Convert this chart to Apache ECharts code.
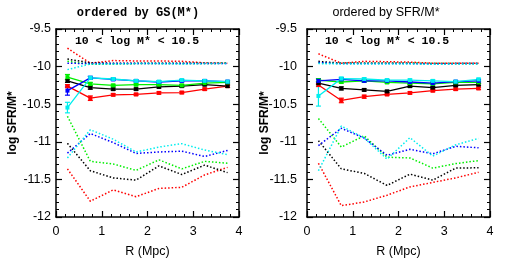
<!DOCTYPE html>
<html>
<head>
<meta charset="utf-8">
<script src="https://cdn.jsdelivr.net/npm/echarts@6/dist/echarts.min.js"></script>
<style>html,body{margin:0;padding:0;background:#fff}#c{width:518px;height:268px}</style>
</head>
<body>
<div id="c"></div>
<script>
// ---- data ----
const R = [0.25, 0.75, 1.25, 1.75, 2.25, 2.75, 3.25, 3.75];
const xTicks = [0, 1, 2, 3, 4];
const yTicks = [-12, -11.5, -11, -10.5, -10, -9.5];

// left panel: ordered by GS(M*) - solid (with error bars)
const L_red   = [-10.26, -10.42, -10.375, -10.37, -10.35, -10.345, -10.30, -10.26];
const L_black = [-10.19, -10.28, -10.30, -10.30, -10.27, -10.26, -10.24, -10.26];
const L_green = [-10.14, -10.23, -10.25, -10.24, -10.24, -10.25, -10.22, -10.21];
const L_blue  = [-10.32, -10.15, -10.17, -10.19, -10.205, -10.19, -10.19, -10.20];
const L_cyan  = [-10.545, -10.15, -10.165, -10.19, -10.20, -10.18, -10.19, -10.20];
const L_red_e   = [0.02, 0.03, 0.015, 0.015, 0.015, 0.015, 0.015, 0.015];
const L_black_e = [0.02, 0.02, 0.015, 0.015, 0.015, 0.015, 0.015, 0.015];
const L_green_e = [0.035, 0.02, 0.015, 0.015, 0.015, 0.015, 0.015, 0.015];
const L_blue_e  = [0.06, 0.02, 0.015, 0.015, 0.015, 0.015, 0.015, 0.015];
const L_cyan_e  = [0.07, 0.02, 0.015, 0.015, 0.015, 0.015, 0.015, 0.015];
// left panel dotted (upper)
const LH_red   = [-9.755, -9.955, -9.92, -9.925, -9.925, -9.93, -9.95, -9.955];
const LH_black = [-9.90, -9.95, -9.955, -9.955, -9.955, -9.955, -9.955, -9.955];
const LH_green = [-9.93, -9.97, -9.965, -9.96, -9.96, -9.96, -9.96, -9.955];
const LH_blue  = [-9.955, -9.96, -9.96, -9.96, -9.96, -9.96, -9.96, -9.96];
const LH_cyan  = [-10.04, -9.965, -9.965, -9.96, -9.96, -9.965, -9.96, -9.96];
// left panel dotted (lower)
const LL_red   = [-11.36, -11.79, -11.64, -11.73, -11.62, -11.605, -11.44, -11.34];
const LL_black = [-11.02, -11.385, -11.48, -11.51, -11.32, -11.435, -11.31, -11.41];
const LL_green = [-10.66, -11.26, -11.295, -11.38, -11.24, -11.36, -11.26, -11.285];
const LL_blue  = [-11.15, -10.89, -11.01, -11.155, -11.135, -11.125, -11.195, -11.115];
const LL_cyan  = [-11.215, -10.84, -10.965, -11.135, -11.07, -11.025, -11.11, -11.17];

// right panel: ordered by SFR/M* - solid
const Rr_red   = [-10.245, -10.45, -10.40, -10.37, -10.35, -10.32, -10.30, -10.29];
const Rr_black = [-10.22, -10.29, -10.31, -10.33, -10.26, -10.28, -10.25, -10.24];
const Rr_green = [-10.18, -10.205, -10.19, -10.21, -10.22, -10.23, -10.21, -10.21];
const Rr_blue  = [-10.19, -10.17, -10.19, -10.19, -10.205, -10.22, -10.20, -10.19];
const Rr_cyan  = [-10.39, -10.16, -10.165, -10.18, -10.18, -10.19, -10.20, -10.17];
const Rr_red_e   = [0.02, 0.03, 0.02, 0.015, 0.015, 0.015, 0.015, 0.015];
const Rr_black_e = [0.02, 0.02, 0.015, 0.015, 0.015, 0.015, 0.015, 0.015];
const Rr_green_e = [0.02, 0.015, 0.015, 0.015, 0.015, 0.015, 0.015, 0.015];
const Rr_blue_e  = [0.025, 0.02, 0.015, 0.015, 0.015, 0.015, 0.015, 0.015];
const Rr_cyan_e  = [0.135, 0.02, 0.015, 0.015, 0.015, 0.015, 0.015, 0.015];
// right panel dotted (upper)
const RH_red   = [-9.83, -9.955, -9.93, -9.935, -9.94, -9.955, -9.955, -9.955];
const RH_black = [-9.93, -9.955, -9.955, -9.955, -9.955, -9.96, -9.96, -9.96];
const RH_green = [-9.95, -9.955, -9.955, -9.955, -9.955, -9.96, -9.96, -9.96];
const RH_blue  = [-9.945, -9.96, -9.96, -9.96, -9.96, -9.965, -9.96, -9.96];
const RH_cyan  = [-9.96, -9.965, -9.965, -9.965, -9.965, -9.97, -9.965, -9.965];
// right panel dotted (lower)
const RL_red   = [-11.285, -11.85, -11.80, -11.71, -11.60, -11.54, -11.48, -11.405];
const RL_black = [-10.985, -11.36, -11.42, -11.58, -11.43, -11.51, -11.35, -11.345];
const RL_green = [-10.69, -11.07, -10.92, -11.205, -11.215, -11.35, -11.29, -11.25];
const RL_blue  = [-11.05, -10.82, -10.95, -11.18, -11.10, -11.16, -11.06, -11.08];
const RL_cyan  = [-11.385, -10.79, -10.95, -11.23, -10.945, -11.19, -11.04, -10.955];

const C = {red:'#ff0000', black:'#000000', green:'#00ee00', blue:'#0000ff', cyan:'#00eeee'};

// ---- build ----
const chart = echarts.init(document.getElementById('c'), null, {renderer:'canvas'});
const GL = [56, 307];
const GW = 183, GT = 29, GH = 188;

function xAx(gi, top) {
  return {
    type:'value', gridIndex: gi, position: top ? 'top' : 'bottom',
    min: xTicks[0], max: xTicks[xTicks.length-1], interval: 1,
    axisLine:{show:true, onZero:false, lineStyle:{color:'#000', width:1.5}},
    axisTick:{show:true, inside:true, length:6, lineStyle:{color:'#000', width:1.2}},
    minorTick:{show:true, splitNumber:5, length:3, lineStyle:{color:'#000', width:1}},
    splitLine:{show:false},
    axisLabel:{show:!top, margin:8, color:'#000', fontSize:12.5, fontFamily:'Liberation Sans'},
    name: top ? '' : 'R (Mpc)', nameLocation:'middle', nameGap:28,
    nameTextStyle:{color:'#000', fontSize:12.5, fontFamily:'Liberation Sans'}
  };
}
function yAx(gi, right) {
  const o = {
    type:'value', gridIndex: gi, position: right ? 'right' : 'left',
    min: yTicks[0], max: yTicks[yTicks.length-1], interval: 0.5,
    axisLine:{show:true, onZero:false, lineStyle:{color:'#000', width:1.5}},
    axisTick:{show:true, inside:true, length:6, lineStyle:{color:'#000', width:1.2}},
    minorTick:{show:true, splitNumber:5, length:3, lineStyle:{color:'#000', width:1}},
    splitLine:{show:false},
    axisLabel:{show:!right, margin: gi===0 ? 5 : 10, color:'#000', fontSize:12.5, fontFamily:'Liberation Sans'},
    name: right ? '' : 'log SFR/M*', nameLocation:'middle', nameGap: gi===0 ? 35 : 36,
    nameTextStyle:{color:'#000', fontSize:12, fontWeight:'bold', fontFamily:'Liberation Sans'}
  };
  if (gi === 1 && !right) o.nameMoveOverlap = false;
  return o;
}

const series = [];
function dotted(gi, vals, color) {
  series.push({type:'line', xAxisIndex: gi*2, yAxisIndex: gi*2, data: R.map((x,i)=>[x, vals[i]]),
    showSymbol:false, symbol:'none', silent:true, z:2,
    lineStyle:{color, width:1.5, type:[1.5, 2]}});
}
function solid(gi, vals, errs, color) {
  series.push({type:'line', xAxisIndex: gi*2, yAxisIndex: gi*2, data: R.map((x,i)=>[x, vals[i]]),
    symbol:'rect', symbolSize:4, silent:true, z:4,
    itemStyle:{color}, lineStyle:{color, width:1.3}});
  series.push({type:'custom', xAxisIndex: gi*2, yAxisIndex: gi*2, silent:true, z:4,
    data: R.map((x,i)=>[x, vals[i]-errs[i], vals[i]+errs[i]]),
    renderItem:(params, api) => {
      const lo = api.coord([api.value(0), api.value(1)]);
      const hi = api.coord([api.value(0), api.value(2)]);
      const w = 2.5;
      const st = {stroke: color, lineWidth: 1.2};
      return {type:'group', children:[
        {type:'line', shape:{x1:lo[0], y1:lo[1], x2:hi[0], y2:hi[1]}, style:st},
        {type:'line', shape:{x1:lo[0]-w, y1:lo[1], x2:lo[0]+w, y2:lo[1]}, style:st},
        {type:'line', shape:{x1:hi[0]-w, y1:hi[1], x2:hi[0]+w, y2:hi[1]}, style:st}
      ]};
    }});
}

// left
[[LH_red,'red'],[LH_black,'black'],[LH_green,'green'],[LH_blue,'blue'],[LH_cyan,'cyan'],
 [LL_red,'red'],[LL_black,'black'],[LL_green,'green'],[LL_blue,'blue'],[LL_cyan,'cyan']]
 .forEach(([v,c]) => dotted(0, v, C[c]));
solid(0, L_red, L_red_e, C.red);
solid(0, L_black, L_black_e, C.black);
solid(0, L_green, L_green_e, C.green);
solid(0, L_blue, L_blue_e, C.blue);
solid(0, L_cyan, L_cyan_e, C.cyan);
// right
[[RH_red,'red'],[RH_black,'black'],[RH_green,'green'],[RH_blue,'blue'],[RH_cyan,'cyan'],
 [RL_red,'red'],[RL_black,'black'],[RL_green,'green'],[RL_blue,'blue'],[RL_cyan,'cyan']]
 .forEach(([v,c]) => dotted(1, v, C[c]));
solid(1, Rr_red, Rr_red_e, C.red);
solid(1, Rr_black, Rr_black_e, C.black);
solid(1, Rr_green, Rr_green_e, C.green);
solid(1, Rr_blue, Rr_blue_e, C.blue);
solid(1, Rr_cyan, Rr_cyan_e, C.cyan);

const monoBold = {fontFamily:'Liberation Mono', fontWeight:'bold', fontSize:11.5, fill:'#000'};

chart.setOption({
  animation:false,
  backgroundColor:'#fff',
  grid:[
    {left:GL[0], top:GT, width:GW, height:GH},
    {left:GL[1], top:GT, width:GW, height:GH}
  ],
  xAxis:[xAx(0,false), xAx(0,true), xAx(1,false), xAx(1,true)],
  yAxis:[yAx(0,false), yAx(0,true), yAx(1,false), yAx(1,true)],
  series,
  graphic:[
    {type:'text', style:Object.assign({text:'ordered by GS(M*)', x:138, y:13, align:'center', verticalAlign:'middle'}, monoBold, {fontSize:12})},
    {type:'text', style:{text:'ordered by SFR/M*', x:386, y:13, align:'center', verticalAlign:'middle', fontFamily:'Liberation Sans', fontSize:12.5, fill:'#000'}},
    {type:'text', style:Object.assign({text:'10 < log M* < 10.5', x:137, y:41, align:'center', verticalAlign:'middle'}, monoBold)},
    {type:'text', style:Object.assign({text:'10 < log M* < 10.5', x:387, y:41, align:'center', verticalAlign:'middle'}, monoBold)}
  ]
});
</script>
</body>
</html>
